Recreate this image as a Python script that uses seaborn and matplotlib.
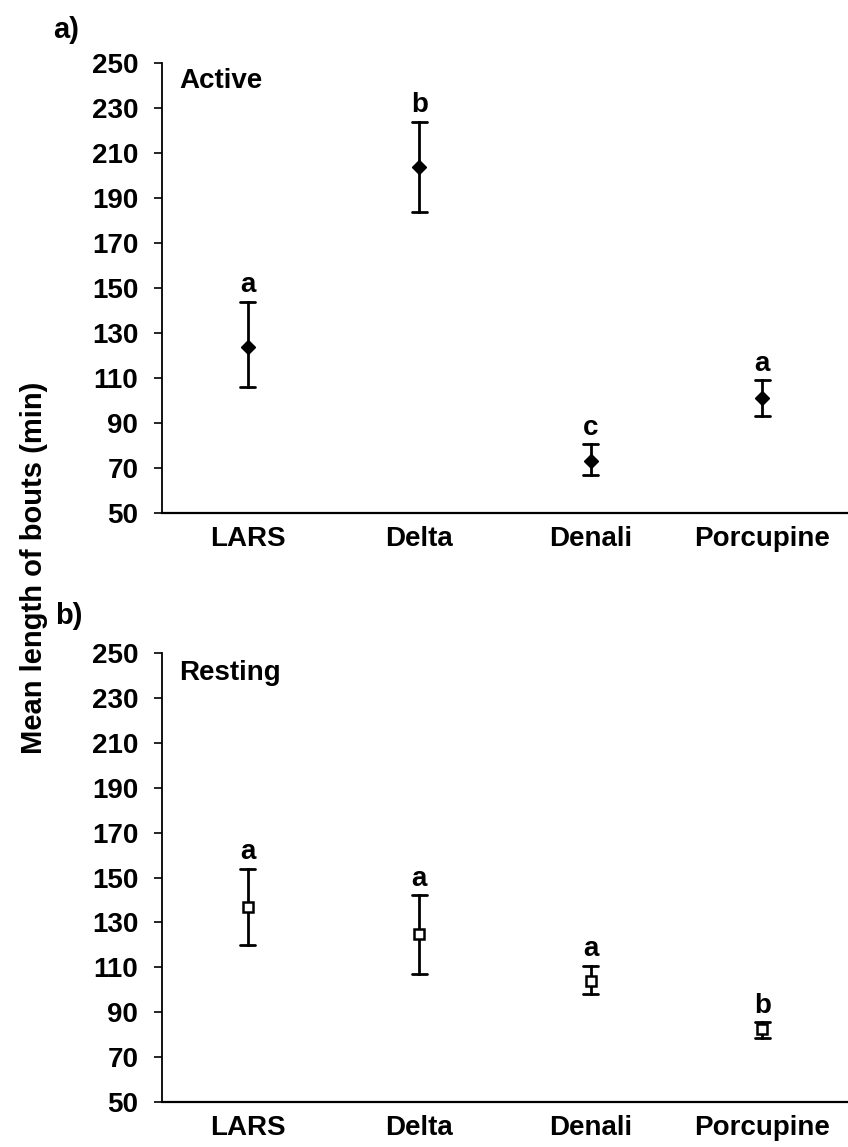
import numpy as np
import pandas as pd
import matplotlib
matplotlib.use("Agg")
import matplotlib.pyplot as plt
import seaborn as sns

sites = ["LARS", "Delta", "Denali", "Porcupine"]
active_mean = [124, 204, 73, 101]
active_lo = [106, 184, 67, 93]
active_hi = [144, 224, 80.5, 109]
active_letters = ["a", "b", "c", "a"]

rest_mean = [137, 125, 104, 82.5]
rest_lo = [120, 107, 98, 78.5]
rest_hi = [154, 142, 110.5, 85.5]
rest_letters = ["a", "a", "a", "b"]

yticks = list(range(50, 251, 20))

sns.set_theme(style="ticks")
plt.rcParams["font.family"] = ["Liberation Sans", "DejaVu Sans"]
plt.rcParams["text.color"] = "black"
plt.rcParams["axes.labelcolor"] = "black"
plt.rcParams["xtick.color"] = "black"
plt.rcParams["ytick.color"] = "black"


def long_df(lo, mid, hi):
    rows = []
    for s, a, m, b in zip(sites, lo, mid, hi):
        for v in (a, m, b):
            rows.append({"site": s, "value": v})
    return pd.DataFrame(rows)


fig = plt.figure(figsize=(8.48, 11.47), dpi=100)
ax1 = fig.add_axes([0.191, 0.5527, 0.809, 0.3923])
ax2 = fig.add_axes([0.191, 0.0392, 0.809, 0.3915])

panels = [
    (ax1, long_df(active_lo, active_mean, active_hi), active_hi, active_letters, "Active", 0.988,
     dict(marker="D", markersize=7.2, markerfacecolor="black", markeredgecolor="black",
          markeredgewidth=1.0)),
    (ax2, long_df(rest_lo, rest_mean, rest_hi), rest_hi, rest_letters, "Resting", 0.984,
     dict(marker="s", markersize=7.2, markerfacecolor="white", markeredgecolor="black",
          markeredgewidth=1.8)),
]

for ax, df, hi, letters, title, ty, mk in panels:
    sns.pointplot(data=df, x="site", y="value", order=sites,
                  estimator=np.median,
                  errorbar=lambda v: (v.min(), v.max()),
                  color="black", linestyles="none", markers=mk["marker"],
                  capsize=0.09, err_kws={"linewidth": 2.0},
                  ax=ax)
    for ln in ax.lines:
        if ln.get_marker() not in (None, "None", "", " "):
            ln.set_markersize(mk["markersize"])
            ln.set_markerfacecolor(mk["markerfacecolor"])
            ln.set_markeredgecolor(mk["markeredgecolor"])
            ln.set_markeredgewidth(mk["markeredgewidth"])
            ln.set_zorder(5)
    for i, (h, let) in enumerate(zip(hi, letters)):
        ax.annotate(let, xy=(i, h), xytext=(0, 7), textcoords="offset points",
                    ha="center", va="baseline", fontsize=20, fontweight="bold")
    ax.set_ylim(50, 250)
    ax.set_xlim(-0.5, 3.5)
    ax.set_yticks(yticks)
    ax.set_xlabel("")
    ax.set_ylabel("")
    sns.despine(ax=ax)
    ax.spines["left"].set_linewidth(1.3)
    ax.spines["bottom"].set_linewidth(1.6)
    ax.spines["left"].set_color("black")
    ax.spines["bottom"].set_color("black")
    ax.tick_params(axis="y", direction="out", length=6, width=1.2, pad=11,
                   labelsize=20, colors="black")
    ax.tick_params(axis="x", length=0, pad=9, labelsize=20, colors="black")
    for lab in ax.get_xticklabels() + ax.get_yticklabels():
        lab.set_fontweight("bold")
    ax.text(0.025, ty, title, transform=ax.transAxes, ha="left", va="top",
            fontsize=20, fontweight="bold")

fig.text(0.078, 0.974, "a)", ha="center", va="center", fontsize=21, fontweight="bold")
fig.text(0.081, 0.463, "b)", ha="center", va="center", fontsize=21, fontweight="bold")
fig.text(0.040, 0.505, "Mean length of bouts (min)", rotation=90, ha="center",
         va="center", fontsize=21, fontweight="bold")

fig.savefig("out.png", dpi=100)
